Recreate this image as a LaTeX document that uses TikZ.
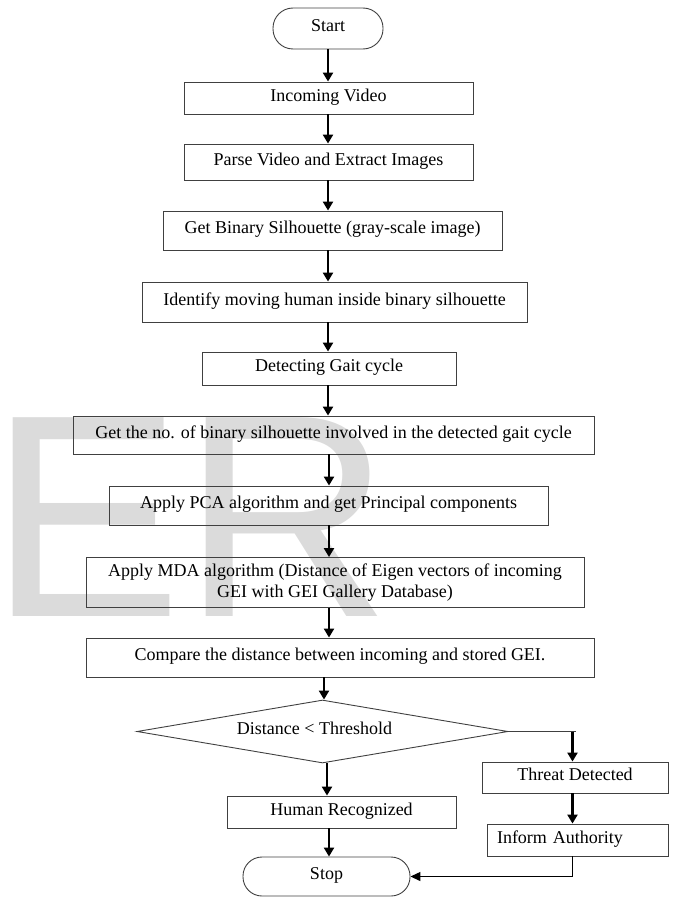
\documentclass[tikz,border=0pt]{standalone}
\usepackage{fontspec}
\setmainfont{Liberation Serif}
\newfontfamily\wmfont{Liberation Sans}
\usetikzlibrary{shapes.geometric,arrows.meta}
\definecolor{wmgray}{gray}{0.86}
\definecolor{edgegray}{gray}{0.25}
\begin{document}
\begin{tikzpicture}[x=1pt,y=-1pt,
  box/.style={draw=edgegray, line width=0.9pt, rectangle, inner sep=0pt,
    font=\fontsize{18}{21.6}\selectfont, text height=12pt, text depth=5.5pt, align=center},
  term/.style={box, rounded corners=19pt},
  arr/.style={line width=2.6pt, -{Triangle[width=10pt,length=9pt]}},
  thinline/.style={draw=edgegray, line width=1.1pt}]
\useasboundingbox (0,0) rectangle (672,899);

% watermark
\node[anchor=base west, inner sep=0pt, text=wmgray,
  font=\wmfont\fontsize{289}{289}\selectfont] (wm) at (0,616) {\hspace*{-10.8pt}ER};

% axes for vertical connectors
\coordinate (a1) at (328,0);
\coordinate (a2) at (329,0);
\coordinate (a3) at (324,0);
\coordinate (a4) at (327,0);
\coordinate (a5) at (572.5,0);

% nodes
\node[term, minimum width=110pt, minimum height=41pt, rounded corners=20pt] (start) at (328,28.5) {Start};
\node[box, minimum width=289pt, minimum height=32pt] (inc) at (328.5,98) {Incoming Video};
\node[box, minimum width=289pt, minimum height=36pt] (parse) at (328.5,162) {Parse Video and Extract Images};
\node[box, minimum width=339pt, minimum height=39pt] (bin) at (332.5,230.5) {Get Binary Silhouette (gray-scale image)};
\node[box, minimum width=385pt, minimum height=40pt] (ident) at (334.5,302) {Identify moving human inside binary silhouette};
\node[box, minimum width=254pt, minimum height=33pt] (gait) at (329,368.5) {Detecting Gait cycle};
\node[box, minimum width=521pt, minimum height=38pt] (count) at (333.5,435) {Get the no. of binary silhouette involved in the detected gait cycle};
\node[box, minimum width=439pt, minimum height=39pt] (pca) at (328.5,505.5) {Apply PCA algorithm and get Principal components};
\node[box, minimum width=498pt, minimum height=50pt, text height={}, text depth={}] (mda) at (335,582.5)
  {Apply MDA algorithm (Distance of Eigen vectors of incoming\\GEI with GEI Gallery Database)};
\node[box, minimum width=508pt, minimum height=39pt] (comp) at (340,657.5) {Compare the distance between incoming and stored GEI.};
\node[diamond, draw=edgegray, line width=0.9pt, minimum width=371pt, minimum height=63pt,
  inner sep=0pt, aspect=5.9,
  label={[xshift=-8pt, font=\fontsize{18}{21.6}\selectfont, text height=12pt, text depth=6pt]center:Distance < Threshold}] (dec) at (322.5,731.5) {};
\node[box, minimum width=186pt, minimum height=31pt] (threat) at (575,777.5) {Threat Detected};
\node[box, minimum height=32pt, text width=161pt, inner xsep=10pt, align=left] (inform) at (577.5,840) {Inform Authority};
\node[box, minimum width=229pt, minimum height=32pt] (human) at (341.5,812) {Human Recognized};
\node[term, minimum width=167pt, minimum height=39pt] (stop) at (326.5,876.5) {Stop};

% connectors
\draw[arr] (start.south -| a1) -- (inc.north -| a1);
\draw[arr] (inc.south -| a1) -- (parse.north -| a1);
\draw[arr] (parse.south -| a1) -- (bin.north -| a1);
\draw[arr] (bin.south -| a1) -- (ident.north -| a1);
\draw[arr] (ident.south -| a1) -- (gait.north -| a1);
\draw[arr] (gait.south -| a1) -- (count.north -| a1);
\draw[arr] (count.south -| a2) -- (pca.north -| a2);
\draw[arr] (pca.south -| a2) -- (mda.north -| a2);
\draw[arr] (mda.south -| a2) -- (comp.north -| a2);
\draw[arr] (comp.south -| a3) -- (dec.north -| a3);
\draw[arr] (dec.south -| a4) -- (human.north -| a4);
\draw[arr] (human.south -| a2) -- (stop.north -| a2);
\draw[thinline] (dec.east) -- ([xshift=3pt]dec.east -| a5);
\draw[arr] (dec.east -| a5) -- (threat.north -| a5);
\draw[arr] (threat.south -| a5) -- (inform.north -| a5);
\draw[line width=1.3pt, -{Triangle[width=9pt,length=10pt]}] (inform.south -| a5) |- (stop.east);
\end{tikzpicture}
\end{document}
